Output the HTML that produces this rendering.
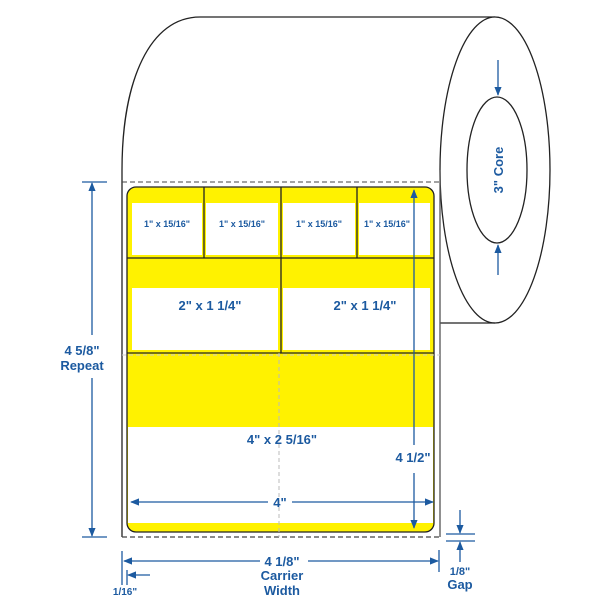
<!DOCTYPE html>
<html><head><style>body{margin:0;background:#fff}svg{display:block}text{font-family:"Liberation Sans",sans-serif;font-weight:bold;fill:#1c5aa0}</style></head><body>
<svg width="614" height="614" viewBox="0 0 614 614" xmlns="http://www.w3.org/2000/svg">
<defs><marker id="a" viewBox="0 0 10 10" refX="9" refY="5" markerWidth="7" markerHeight="7" orient="auto-start-reverse"><path d="M0,1 L10,5 L0,9 z" fill="#1c5aa0"/></marker></defs>
<!-- roll -->
<path d="M122,537 L122,170 C122,80 150,17 200,17 L495,17" fill="none" stroke="#222" stroke-width="1.3"/>
<ellipse cx="495" cy="170" rx="55" ry="153" fill="#fff" stroke="#222" stroke-width="1.3"/>
<line x1="440" y1="323" x2="495" y2="323" stroke="#222" stroke-width="1.3"/>
<line x1="440" y1="170" x2="440" y2="537" stroke="#555" stroke-width="1.3"/>
<ellipse cx="497" cy="170" rx="30" ry="73" fill="#fff" stroke="#222" stroke-width="1.3"/>
<line x1="498" y1="60" x2="498" y2="95" stroke="#1c5aa0" stroke-width="1.3" marker-end="url(#a)"/>
<line x1="498" y1="275" x2="498" y2="245" stroke="#1c5aa0" stroke-width="1.3" marker-end="url(#a)"/>
<text x="0" y="0" font-size="13" transform="translate(503,170) rotate(-90)" text-anchor="middle">3" Core</text>
<!-- label -->
<rect x="127" y="187" width="307" height="345" rx="9" fill="#fff200" stroke="#222" stroke-width="1.3"/>
<g fill="#fff">
<rect x="132" y="203" width="70" height="52"/><rect x="206" y="203" width="72" height="52"/><rect x="283" y="203" width="72" height="52"/><rect x="359" y="203" width="71" height="52"/>
<rect x="132" y="288" width="146" height="62"/><rect x="283" y="288" width="147" height="62"/>
<rect x="128" y="427" width="305" height="96"/>
</g>
<g stroke="#222" stroke-width="1.3">
<line x1="204" y1="187" x2="204" y2="258"/><line x1="281" y1="187" x2="281" y2="353"/><line x1="357" y1="187" x2="357" y2="258"/>
<line x1="127" y1="258" x2="434" y2="258"/><line x1="127" y1="353" x2="434" y2="353"/>
</g>
<line x1="122" y1="182" x2="440" y2="182" stroke="#444" stroke-dasharray="5,3"/>
<line x1="122" y1="537" x2="440" y2="537" stroke="#444" stroke-dasharray="5,3" stroke-width="1.3"/>
<line x1="279" y1="353" x2="279" y2="537" stroke="#bbb" stroke-dasharray="4,3"/>
<line x1="122" y1="355" x2="440" y2="355" stroke="#ccc" stroke-dasharray="4,3"/>
<g font-size="9" text-anchor="middle"><text x="167" y="227">1" x 15/16"</text><text x="242" y="227">1" x 15/16"</text><text x="319" y="227">1" x 15/16"</text><text x="387" y="227">1" x 15/16"</text></g>
<g font-size="13" text-anchor="middle"><text x="210" y="310">2" x 1 1/4"</text><text x="365" y="310">2" x 1 1/4"</text><text x="282" y="444">4" x 2 5/16"</text>
<text x="280" y="507">4"</text><text x="413" y="462">4 1/2"</text></g>
<line x1="414" y1="445" x2="414" y2="190" stroke="#1c5aa0" stroke-width="1.3" marker-end="url(#a)"/>
<line x1="414" y1="473" x2="414" y2="528" stroke="#1c5aa0" stroke-width="1.3" marker-end="url(#a)"/>
<line x1="268" y1="502" x2="131" y2="502" stroke="#1c5aa0" stroke-width="1.3" marker-end="url(#a)"/>
<line x1="292" y1="502" x2="433" y2="502" stroke="#1c5aa0" stroke-width="1.3" marker-end="url(#a)"/>
<!-- left repeat -->
<g stroke="#1c5aa0" stroke-width="1.3">
<line x1="82" y1="182" x2="107" y2="182"/><line x1="82" y1="537" x2="107" y2="537"/>
<line x1="92" y1="335" x2="92" y2="183" marker-end="url(#a)"/><line x1="92" y1="378" x2="92" y2="536" marker-end="url(#a)"/>
<line x1="122" y1="551" x2="122" y2="585"/><line x1="127" y1="570" x2="127" y2="585"/><line x1="439" y1="550" x2="439" y2="572"/>
<line x1="260" y1="561" x2="124" y2="561" marker-end="url(#a)"/><line x1="308" y1="561" x2="438" y2="561" marker-end="url(#a)"/>
<line x1="150" y1="575" x2="128" y2="575" marker-end="url(#a)"/>
<line x1="446" y1="534" x2="475" y2="534"/><line x1="446" y1="541" x2="475" y2="541"/>
<line x1="460" y1="510" x2="460" y2="533" marker-end="url(#a)"/><line x1="460" y1="562" x2="460" y2="542" marker-end="url(#a)"/>
</g>
<g font-size="13" text-anchor="middle"><text x="82" y="355">4 5/8"</text><text x="82" y="370">Repeat</text>
<text x="282" y="566">4 1/8"</text><text x="282" y="580">Carrier</text><text x="282" y="595">Width</text>
<text x="460" y="575" font-size="11">1/8"</text><text x="460" y="589">Gap</text><text x="125" y="595" font-size="10">1/16"</text></g>
</svg>
</body></html>
